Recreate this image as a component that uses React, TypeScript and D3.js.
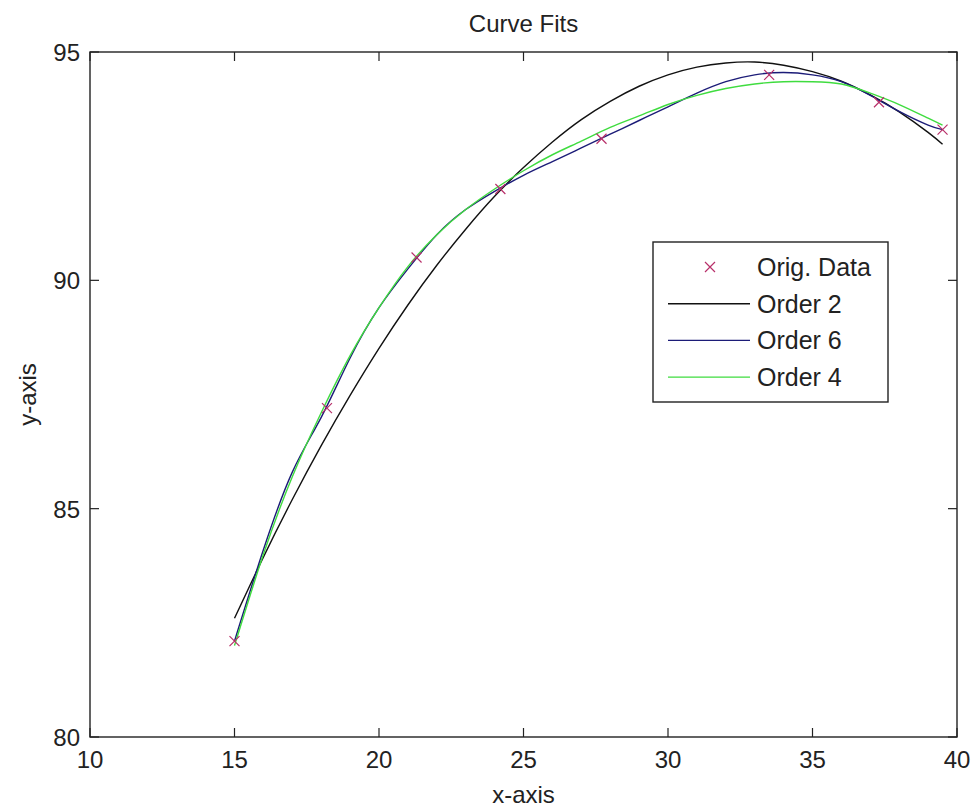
import { useRef, useEffect } from 'react';
import * as d3 from 'd3';

const width = 972;
const height = 808;
const margin = { top: 52, right: 15, bottom: 71, left: 90 };

// original data points
const dataX = [15, 18.2, 21.3, 24.2, 27.7, 33.5, 37.3, 39.5];
const dataY = [82.1, 87.2, 90.5, 92.0, 93.1, 94.5, 93.9, 93.3];

// curve samples
const curveX = [15, 16, 17, 18, 19, 20, 21, 22, 23, 24, 25, 26, 27, 28, 29, 30, 31, 32, 33, 34, 35, 36, 37, 38, 39, 39.5];
const order2 = [82.6, 83.94, 85.2, 86.38, 87.48, 88.51, 89.46, 90.33, 91.12, 91.84, 92.47, 93.03, 93.52, 93.92, 94.25, 94.5, 94.67, 94.76, 94.78, 94.71, 94.57, 94.36, 94.06, 93.69, 93.24, 92.98];
const order6 = [82.1, 84.1, 85.8, 87.0, 88.3, 89.4, 90.25, 91.0, 91.55, 91.95, 92.3, 92.6, 92.9, 93.2, 93.5, 93.8, 94.1, 94.35, 94.5, 94.55, 94.5, 94.35, 94.05, 93.7, 93.4, 93.3];
const order4 = [82.0, 84.0, 85.7, 87.1, 88.35, 89.4, 90.3, 91.0, 91.55, 92.0, 92.4, 92.75, 93.05, 93.35, 93.6, 93.85, 94.05, 94.2, 94.3, 94.35, 94.35, 94.3, 94.1, 93.85, 93.55, 93.4];

const xTicks = [10, 15, 20, 25, 30, 35, 40];
const yTicks = [80, 85, 90, 95];

const series = [
  { name: 'Order 2', values: order2, color: '#111111' },
  { name: 'Order 6', values: order6, color: '#1c1c78' },
  { name: 'Order 4', values: order4, color: '#3fdc3f' },
];

const font = 'Liberation Sans, Arial, sans-serif';
const fs = 24;

export default function App() {
  const ref = useRef<SVGSVGElement>(null);

  useEffect(() => {
    document.body.style.margin = '0';
    const svg = d3.select(ref.current);
    svg.selectAll('*').remove();

    const x = d3.scaleLinear().domain([10, 40]).range([margin.left, width - margin.right]);
    const y = d3.scaleLinear().domain([80, 95]).range([height - margin.bottom, margin.top]);

    svg.append('rect').attr('width', width).attr('height', height).attr('fill', 'white');

    const tickLen = 9;
    const axisColor = '#222';

    // ticks (inward, all four sides)
    const g = svg.append('g').attr('stroke', axisColor).attr('stroke-width', 1.2);
    xTicks.forEach((t) => {
      g.append('line').attr('x1', x(t)).attr('x2', x(t)).attr('y1', y(80)).attr('y2', y(80) - tickLen);
      g.append('line').attr('x1', x(t)).attr('x2', x(t)).attr('y1', y(95)).attr('y2', y(95) + tickLen);
    });
    yTicks.forEach((t) => {
      g.append('line').attr('x1', x(10)).attr('x2', x(10) + tickLen).attr('y1', y(t)).attr('y2', y(t));
      g.append('line').attr('x1', x(40)).attr('x2', x(40) - tickLen).attr('y1', y(t)).attr('y2', y(t));
    });

    // curves
    series.forEach((s) => {
      const line = d3
        .line<number>()
        .x((d, i) => x(curveX[i]))
        .y((d) => y(d))
        .curve(d3.curveNatural);
      svg
        .append('path')
        .attr('d', line(s.values))
        .attr('fill', 'none')
        .attr('stroke', s.color)
        .attr('stroke-width', 1.4);
    });

    // x markers
    const mk = 5;
    const marker = (sel: any, cx: number, cy: number) => {
      sel.append('path')
        .attr('d', `M${cx - mk},${cy - mk}L${cx + mk},${cy + mk}M${cx - mk},${cy + mk}L${cx + mk},${cy - mk}`)
        .attr('stroke', '#b8306a')
        .attr('stroke-width', 1.2)
        .attr('fill', 'none');
    };
    dataX.forEach((dx, i) => marker(svg, x(dx), y(dataY[i])));

    // box
    svg
      .append('rect')
      .attr('x', x(10))
      .attr('y', y(95))
      .attr('width', x(40) - x(10))
      .attr('height', y(80) - y(95))
      .attr('fill', 'none')
      .attr('stroke', axisColor)
      .attr('stroke-width', 1.4);

    // tick labels
    const tl = svg.append('g').attr('font-family', font).attr('font-size', fs).attr('fill', '#222');
    xTicks.forEach((t) => {
      tl.append('text').attr('x', x(t)).attr('y', y(80) + 31).attr('text-anchor', 'middle').text(t);
    });
    yTicks.forEach((t) => {
      tl.append('text').attr('x', x(10) - 10).attr('y', y(t) + 9).attr('text-anchor', 'end').text(t);
    });

    // titles
    svg.append('text').attr('x', (x(10) + x(40)) / 2).attr('y', 32).attr('text-anchor', 'middle')
      .attr('font-family', font).attr('font-size', fs).attr('fill', '#222').text('Curve Fits');
    svg.append('text').attr('x', (x(10) + x(40)) / 2).attr('y', 803).attr('text-anchor', 'middle')
      .attr('font-family', font).attr('font-size', fs).attr('fill', '#222').text('x-axis');
    svg.append('text').attr('transform', `translate(36,${(y(80) + y(95)) / 2}) rotate(-90)`).attr('text-anchor', 'middle')
      .attr('font-family', font).attr('font-size', fs).attr('fill', '#222').text('y-axis');

    // legend
    const lx = 653, ly = 242, lw = 235, lh = 160;
    const leg = svg.append('g');
    leg.append('rect').attr('x', lx).attr('y', ly).attr('width', lw).attr('height', lh)
      .attr('fill', 'white').attr('stroke', axisColor).attr('stroke-width', 1.4);
    const rows = [{ name: 'Orig. Data', color: '' }, ...series];
    rows.forEach((r, i) => {
      const ry = 267 + i * 36.7;
      if (i === 0) {
        marker(leg, 710, ry);
      } else {
        leg.append('line').attr('x1', 668).attr('x2', 750).attr('y1', ry).attr('y2', ry)
          .attr('stroke', r.color).attr('stroke-width', 1.4);
      }
      leg.append('text').attr('x', 757).attr('y', ry + 9).attr('font-family', font).attr('font-size', 25)
        .attr('fill', '#222').text(r.name);
    });
  }, []);

  return <svg ref={ref} width={width} height={height} style={{ display: 'block' }} />;
}
